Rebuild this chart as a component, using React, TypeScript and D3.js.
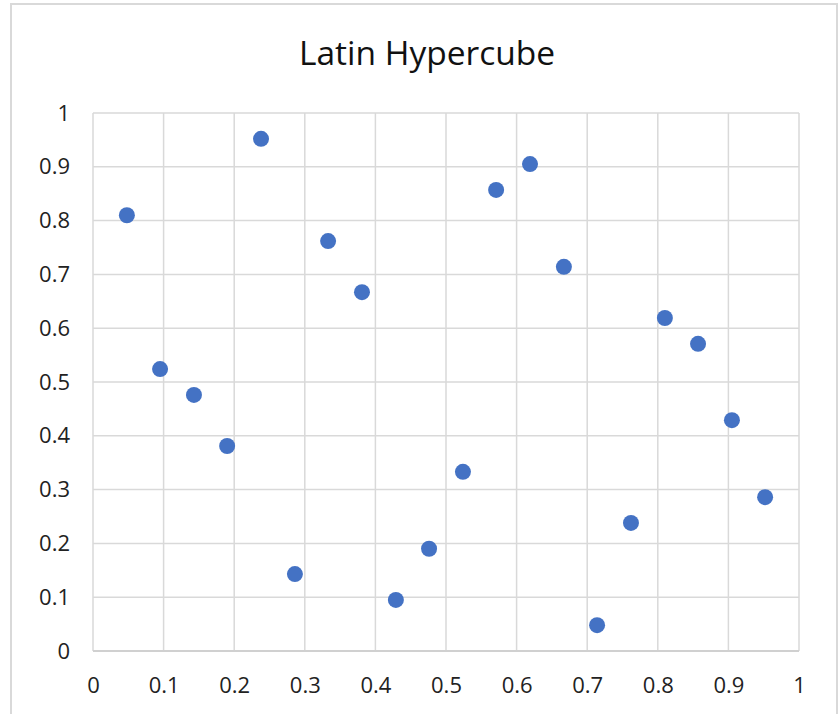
import React, { useEffect, useRef } from 'react';
import * as d3 from 'd3';

// sample points
const xValues = [0.048, 0.095, 0.143, 0.19, 0.238, 0.286, 0.333, 0.381, 0.429, 0.476,
  0.524, 0.571, 0.619, 0.667, 0.714, 0.762, 0.81, 0.857, 0.905, 0.952];
const yValues = [0.81, 0.524, 0.476, 0.381, 0.952, 0.143, 0.762, 0.667, 0.095, 0.19,
  0.333, 0.857, 0.905, 0.714, 0.048, 0.238, 0.619, 0.571, 0.429, 0.286];
const tickValues = [0, 0.1, 0.2, 0.3, 0.4, 0.5, 0.6, 0.7, 0.8, 0.9, 1];
const chartTitle = 'Latin Hypercube';

const App = () => {
  const ref = useRef<SVGSVGElement>(null);

  useEffect(() => {
    if (!ref.current) return;
    const svg = d3.select(ref.current);
    svg.selectAll('*').remove();

    const W = 840, H = 714;
    const margin = { top: 113, right: 41, bottom: 63, left: 93 };
    const width = W - margin.left - margin.right;
    const height = H - margin.top - margin.bottom;
    const font = '"Open Sans", Lato, sans-serif';

    // chart frame
    svg.append('rect')
      .attr('width', W).attr('height', H).attr('fill', '#fff');
    svg.append('rect')
      .attr('x', 11).attr('y', 4)
      .attr('width', 826).attr('height', H + 10)
      .attr('fill', 'none')
      .attr('stroke', '#d9d9d9')
      .attr('stroke-width', 2);

    svg.append('text')
      .attr('x', 427).attr('y', 65)
      .attr('text-anchor', 'middle')
      .attr('font-family', font)
      .attr('font-size', 33.5)
      .attr('fill', '#111')
      .text(chartTitle);

    const g = svg.append('g').attr('transform', `translate(${margin.left},${margin.top})`);

    const x = d3.scaleLinear().domain([0, 1]).range([0, width]);
    const y = d3.scaleLinear().domain([0, 1]).range([height, 0]);

    // gridlines
    g.append('g')
      .selectAll('line.v')
      .data(tickValues)
      .enter().append('line')
      .attr('x1', d => x(d)).attr('x2', d => x(d))
      .attr('y1', 0).attr('y2', height)
      .attr('stroke', '#d9d9d9').attr('stroke-width', 1.5);
    g.append('g')
      .selectAll('line.h')
      .data(tickValues)
      .enter().append('line')
      .attr('x1', 0).attr('x2', width)
      .attr('y1', d => y(d)).attr('y2', d => y(d))
      .attr('stroke', '#d9d9d9').attr('stroke-width', 1.5);

    const fmt = (d: number) => (d === 0 || d === 1 ? String(d) : d3.format('.1f')(d));

    const xAxis = g.append('g')
      .attr('transform', `translate(0,${height})`)
      .call(d3.axisBottom(x).tickValues(tickValues).tickFormat(fmt as any).tickSize(0).tickPadding(26));
    const yAxis = g.append('g')
      .call(d3.axisLeft(y).tickValues(tickValues).tickFormat(fmt as any).tickSize(0).tickPadding(23));

    [xAxis, yAxis].forEach(a => {
      a.select('.domain').remove();
      a.selectAll('text')
        .attr('fill', '#222')
        .style('font-size', '22px')
        .style('font-family', font);
    });

    // bottom axis line
    g.append('line')
      .attr('x1', 0).attr('x2', width)
      .attr('y1', height).attr('y2', height)
      .attr('stroke', '#d0d0d0').attr('stroke-width', 2);

    g.selectAll('.dot')
      .data(xValues.map((v, i) => [v, yValues[i]]))
      .enter().append('circle')
      .attr('cx', d => x(d[0]))
      .attr('cy', d => y(d[1]))
      .attr('r', 8)
      .attr('fill', '#4472c4');
  }, []);

  return (
    <svg ref={ref} width={840} height={714}
      style={{ position: 'absolute', left: 0, top: 0, display: 'block' }} />
  );
};

export default App;
